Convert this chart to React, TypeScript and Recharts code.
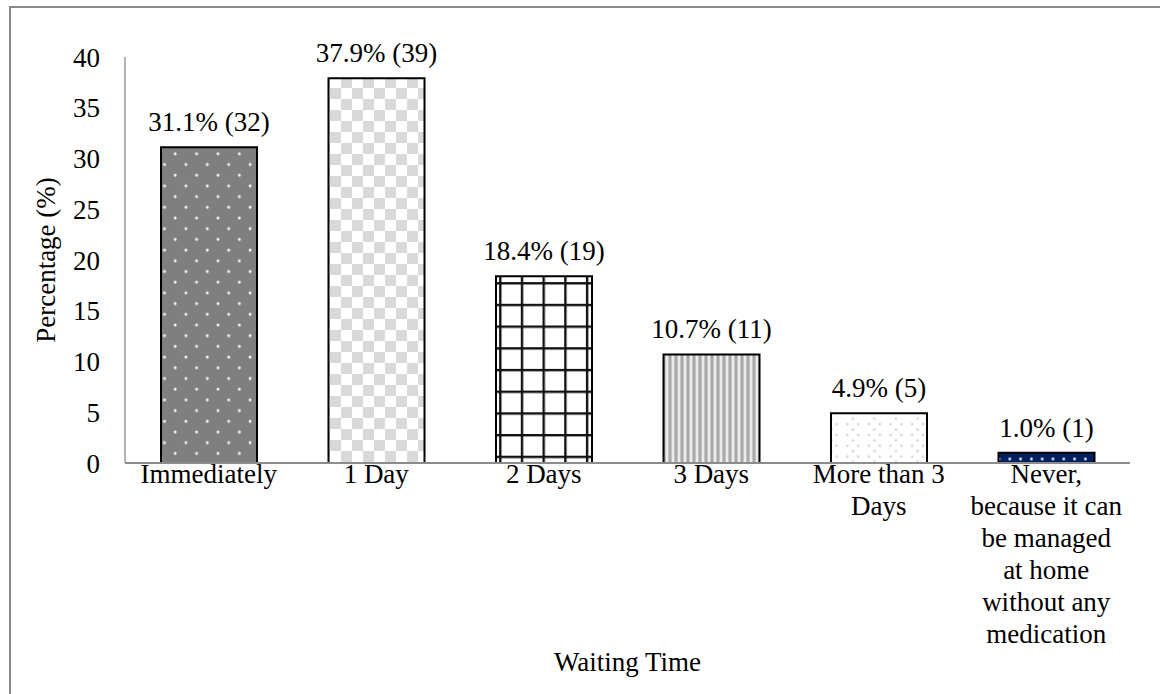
import React from "react";
import { BarChart, Bar, XAxis, YAxis, Cell, LabelList } from "recharts";

// response categories (line breaks are where the tick text wraps)
const categories = [
  "Immediately",
  "1 Day",
  "2 Days",
  "3 Days",
  "More than 3\nDays",
  "Never,\nbecause it can\nbe managed\nat home\nwithout any\nmedication",
];
const percentages = [31.1, 37.9, 18.4, 10.7, 4.9, 1.0];
const counts = [32, 39, 19, 11, 5, 1];
const yTicks = [0, 5, 10, 15, 20, 25, 30, 35, 40];
const fillPatterns = ["pDots", "pChecker", "pGrid", "pStripes", "pSpeckle", "pNavy"];

const data = categories.map((name, i) => ({
  name,
  pct: percentages[i],
  label: `${percentages[i].toFixed(1)}% (${counts[i]})`,
}));

const FONT = "Liberation Serif, serif";
const FS = 27;
const textStyle = { fontFamily: FONT, fontSize: FS, fill: "#000" };

// one <text> per wrapped line
function MultiLineTick(props: any) {
  const { x, y, payload } = props;
  const lines = String(payload.value).split("\n");
  return (
    <g>
      {lines.map((ln, i) => (
        <text
          key={i}
          x={x}
          y={y + 20 + i * 32}
          textAnchor="middle"
          fontFamily={FONT}
          fontSize={FS}
          fill="#000"
        >
          {ln}
        </text>
      ))}
    </g>
  );
}

export default function App() {
  return (
    <div style={{ position: "relative", width: 1160, height: 694, background: "#fff" }}>
      <style>{`body{margin:0;overflow:hidden}`}</style>
      <div
        style={{
          position: "absolute",
          left: 9,
          top: 6,
          right: 0,
          bottom: 0,
          borderLeft: "2px solid #8a8a8a",
          borderTop: "2px solid #8a8a8a",
        }}
      />
      <div style={{ position: "absolute", left: 0, top: 0 }}>
        <BarChart
          width={1160}
          height={694}
          data={data}
          margin={{ top: 57, right: 30, left: 0, bottom: 23 }}
          barSize={96}
        >
          <defs>
            <pattern id="pDots" width={21.4} height={21.4} patternUnits="userSpaceOnUse">
              <rect width={21.4} height={21.4} fill="#7f7f7f" />
              <circle cx={4} cy={4} r={1.5} fill="#f2f2f2" />
              <circle cx={14.7} cy={14.7} r={1.5} fill="#f2f2f2" />
            </pattern>
            <pattern id="pChecker" width={22} height={22} patternUnits="userSpaceOnUse">
              <rect width={22} height={22} fill="#fff" />
              <rect x={0} y={0} width={11} height={11} fill="#d9d9d9" />
              <rect x={11} y={11} width={11} height={11} fill="#d9d9d9" />
            </pattern>
            <pattern id="pGrid" width={21.7} height={21.7} patternUnits="userSpaceOnUse">
              <rect width={21.7} height={21.7} fill="#fff" />
              <rect x={0} y={0} width={21.7} height={2.4} fill="#111" />
              <rect x={0} y={0} width={2.4} height={21.7} fill="#111" />
            </pattern>
            <pattern id="pStripes" width={6} height={10} patternUnits="userSpaceOnUse">
              <rect width={6} height={10} fill="#ececec" />
              <rect x={2} width={1} height={10} fill="#c4c4c4" />
              <rect x={3} width={2} height={10} fill="#a9a9a9" />
              <rect x={5} width={1} height={10} fill="#c4c4c4" />
            </pattern>
            <pattern id="pSpeckle" width={21.6} height={10.8} patternUnits="userSpaceOnUse">
              <rect width={21.6} height={10.8} fill="#fff" />
              <circle cx={5} cy={3} r={1.2} fill="#cfcfcf" />
              <circle cx={15.8} cy={3} r={1.2} fill="#cfcfcf" />
              <circle cx={10.4} cy={8.4} r={1.2} fill="#cfcfcf" />
            </pattern>
            <pattern id="pNavy" width={10.8} height={10.8} patternUnits="userSpaceOnUse">
              <rect width={10.8} height={10.8} fill="#002060" />
              <circle cx={5.4} cy={5.4} r={1.4} fill="#e8ecf5" />
            </pattern>
          </defs>
          <XAxis
            dataKey="name"
            interval={0}
            height={208}
            tickLine={false}
            tickSize={0}
            tickMargin={0}
            tick={<MultiLineTick />}
            axisLine={{ stroke: "#8c8c8c", strokeWidth: 2 }}
            label={{
              value: "Waiting Time",
              position: "insideBottom",
              offset: 0,
              style: textStyle,
            }}
          />
          <YAxis
            width={125}
            domain={[0, 40]}
            ticks={yTicks}
            interval={0}
            tickLine={false}
            tickSize={0}
            tickMargin={25}
            axisLine={{ stroke: "#9a9a9a", strokeWidth: 1.5 }}
            tick={textStyle}
            label={{
              value: "Percentage (%)",
              angle: -90,
              position: "insideLeft",
              offset: 45,
              style: { ...textStyle, textAnchor: "middle" },
            }}
          />
          <Bar dataKey="pct" isAnimationActive={false} stroke="#000" strokeWidth={2}>
            {data.map((d, i) => (
              <Cell key={d.name} fill={`url(#${fillPatterns[i]})`} />
            ))}
            <LabelList dataKey="label" position="top" offset={16} style={textStyle} />
          </Bar>
        </BarChart>
      </div>
    </div>
  );
}
